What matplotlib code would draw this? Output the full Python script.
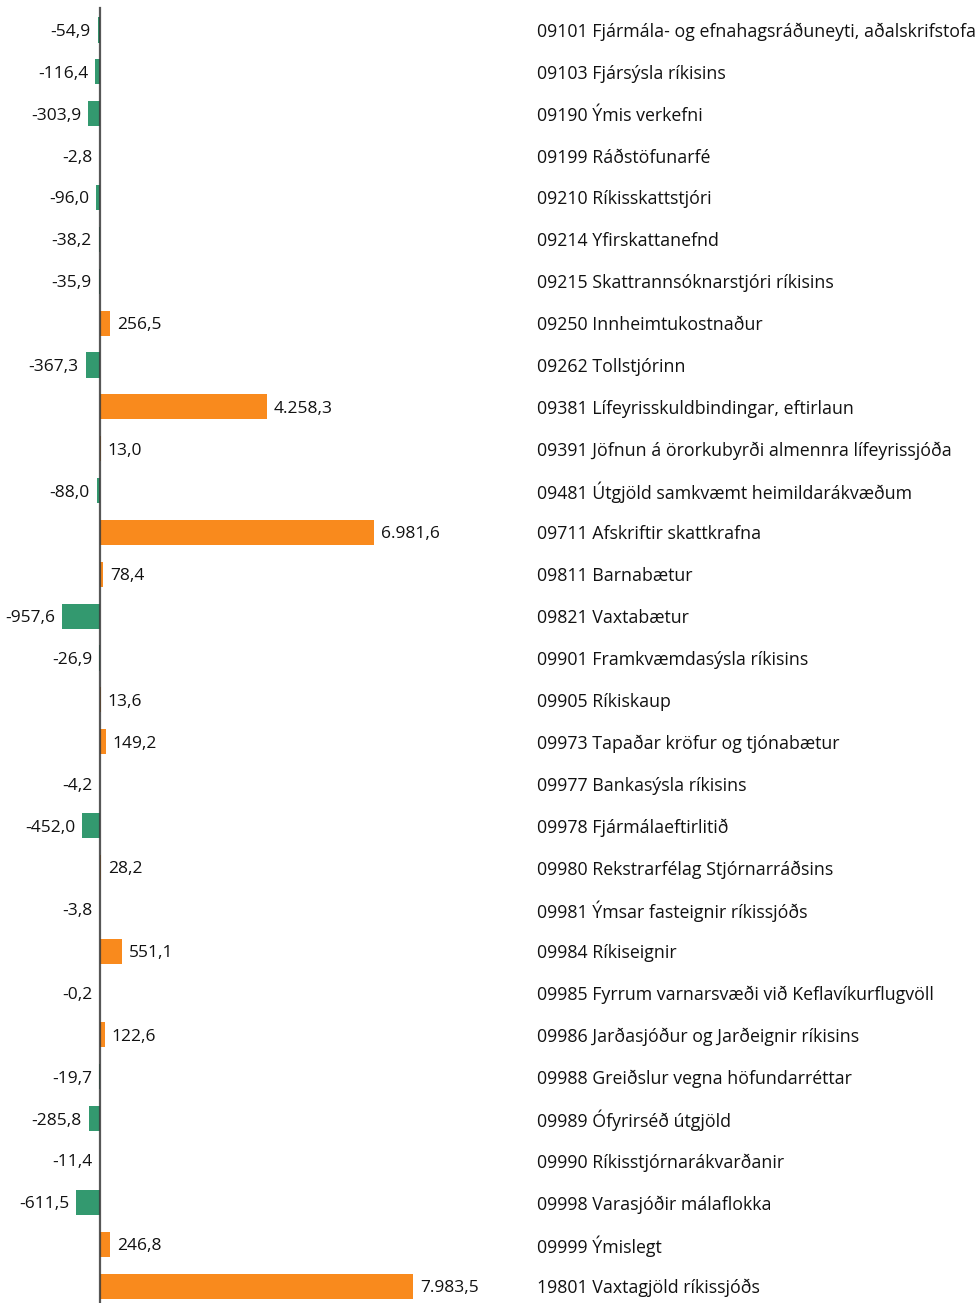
import matplotlib
matplotlib.use("Agg")
import matplotlib.pyplot as plt
from matplotlib import font_manager
import matplotlib.transforms as mtransforms

# Gögn
categories = [
    "09101 Fjármála- og efnahagsráðuneyti, aðalskrifstofa",
    "09103 Fjársýsla ríkisins",
    "09190 Ýmis verkefni",
    "09199 Ráðstöfunarfé",
    "09210 Ríkisskattstjóri",
    "09214 Yfirskattanefnd",
    "09215 Skattrannsóknarstjóri ríkisins",
    "09250 Innheimtukostnaður",
    "09262 Tollstjórinn",
    "09381 Lífeyrisskuldbindingar, eftirlaun",
    "09391 Jöfnun á örorkubyrði almennra lífeyrissjóða",
    "09481 Útgjöld samkvæmt heimildarákvæðum",
    "09711 Afskriftir skattkrafna",
    "09811 Barnabætur",
    "09821 Vaxtabætur",
    "09901 Framkvæmdasýsla ríkisins",
    "09905 Ríkiskaup",
    "09973 Tapaðar kröfur og tjónabætur",
    "09977 Bankasýsla ríkisins",
    "09978 Fjármálaeftirlitið",
    "09980 Rekstrarfélag Stjórnarráðsins",
    "09981 Ýmsar fasteignir ríkissjóðs",
    "09984 Ríkiseignir",
    "09985 Fyrrum varnarsvæði við Keflavíkurflugvöll",
    "09986 Jarðasjóður og Jarðeignir ríkisins",
    "09988 Greiðslur vegna höfundarréttar",
    "09989 Ófyrirséð útgjöld",
    "09990 Ríkisstjórnarákvarðanir",
    "09998 Varasjóðir málaflokka",
    "09999 Ýmislegt",
    "19801 Vaxtagjöld ríkissjóðs",
]
values = [
    -54.9, -116.4, -303.9, -2.8, -96.0, -38.2, -35.9, 256.5, -367.3, 4258.3,
    13.0, -88.0, 6981.6, 78.4, -957.6, -26.9, 13.6, 149.2, -4.2, -452.0,
    28.2, -3.8, 551.1, -0.2, 122.6, -19.7, -285.8, -11.4, -611.5, 246.8,
    7983.5,
]

ORANGE = "#f98a1d"
GREEN = "#33996f"

available = {f.name for f in font_manager.fontManager.ttflist}
family = [f for f in ["Liberation Sans Narrow", "Open Sans", "DejaVu Sans"] if f in available]
plt.rcParams["font.family"] = family


def fmt(v):
    s = f"{abs(v):,.1f}".replace(",", "X").replace(".", ",").replace("X", ".")
    return ("-" if v < 0 else "") + s


W, H = 979, 1303
fig = plt.figure(figsize=(W / 100, H / 100), dpi=100)
ax = fig.add_axes([0, 0, 1, 1])

px = 0.0392  # pixlar á einingu
zero_px = 100
ax.set_xlim(-zero_px / px, (W - zero_px) / px)
row0, step = 30, 41.87
ax.set_ylim((H - row0) / step, -row0 / step)

ys = list(range(len(values)))
colors = [ORANGE if v >= 0 else GREEN for v in values]
ax.barh(ys, values, height=0.6, color=colors, zorder=2)
ax.plot([0, 0], [-0.52, (H - row0) / step], color="#3a3a3a", lw=1.6, alpha=0.85, zorder=3)

off = 7 / px
for y, v in zip(ys, values):
    if v >= 0:
        ax.text(v + off, y, fmt(v), ha="left", va="center_baseline", fontsize=12.5, color="#111111")
    else:
        ax.text(v - off, y, fmt(v), ha="right", va="center_baseline", fontsize=12.5, color="#111111")

trans = mtransforms.blended_transform_factory(fig.transFigure, ax.transData)
for y, c in zip(ys, categories):
    ax.text(537 / W, y, c, transform=trans, ha="left", va="center_baseline",
            fontsize=12.8, color="#111111")

ax.axis("off")
fig.savefig("out.png", dpi=100)
